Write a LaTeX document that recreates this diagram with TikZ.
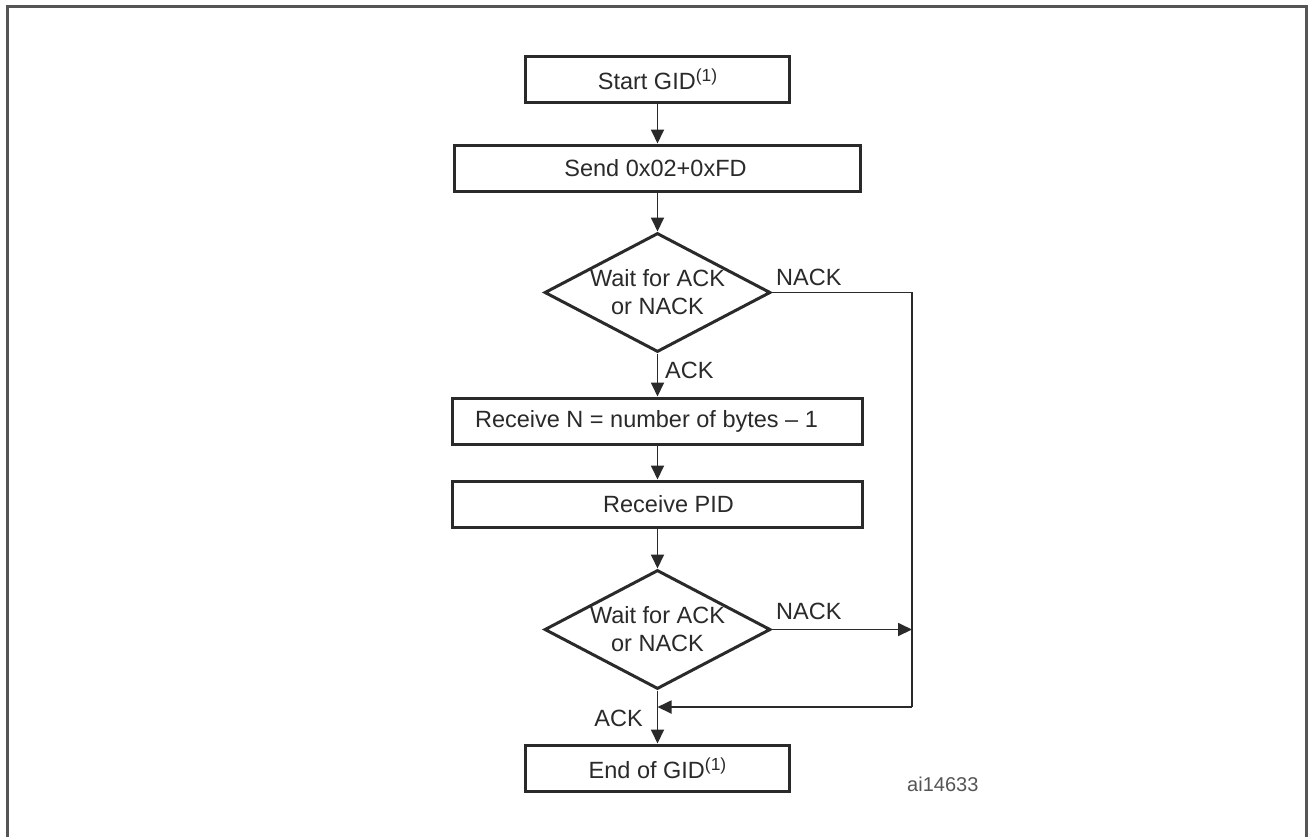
\documentclass[tikz,border=0pt]{standalone}
\usepackage{fontspec}
\setmainfont{Liberation Sans}
\usetikzlibrary{shapes.geometric,arrows.meta}
\definecolor{ink}{HTML}{2A2A2A}
\definecolor{frm}{HTML}{555555}
\newcommand{\noteref}{\raisebox{8pt}{\fontsize{17.5}{19}\selectfont(1)}}
\begin{document}
\begin{tikzpicture}[x=1pt,y=-1pt,
  font=\fontsize{23.5}{28}\selectfont, text=ink,
  procbox/.style={draw=ink, line width=3pt, rectangle, inner sep=0pt, minimum height=46pt},
  decision/.style={draw=ink, line width=3pt, diamond, aspect=1.9, inner sep=0pt, minimum width=226pt, minimum height=119pt, align=center},
  flow/.style={draw=ink, line width=1.8pt, -{Triangle[length=14pt,width=13pt]}},
  plain/.style={draw=ink, line width=1.8pt},
  lbl/.style={inner sep=0pt}]
\useasboundingbox (0,0) rectangle (1311,836);
\fill[white] (0,0) rectangle (1311,836);
\draw[frm, line width=3pt] (7,840) -- (7,6) -- (1306,6) -- (1306,840);

\node[procbox, minimum width=264pt] (start) at (657.5,79.5) {Start GID\noteref};
\node[procbox, minimum width=406pt] (send) at (657.5,168) {\hspace*{-4pt}Send 0x02+0xFD};
\node[decision] (d1) at (657.5,292.5) {Wait for ACK\\or NACK};
\node[procbox, minimum width=410pt] (recn) at (657.5,421) {\hspace*{-22pt}Receive N = number of bytes -- 1};
\node[procbox, minimum width=410pt] (pid) at (657.5,504) {\hspace*{22pt}Receive PID};
\node[decision] (d2) at (657.5,629.5) {Wait for ACK\\or NACK};
\node[procbox, minimum width=264pt] (stop) at (657.5,768) {End of GID\noteref};

\coordinate (rt) at (912,292.5);
\coordinate (rb) at (912,707);
\coordinate (rm) at (912,629.5);
\coordinate (mj) at (657.5,707);

\draw[flow] (start) -- (send);
\draw[flow] (send) -- (d1);
\draw[flow] (d1) -- (recn);
\draw[flow] (recn) -- (pid);
\draw[flow] (pid) -- (d2);
\draw[flow] (d2) -- (stop);
\draw[plain] (d1.east) -- (rt) -- (rb);
\draw[flow] (rb) -- (mj);
\draw[flow] (d2.east) -- (rm);

\node[lbl, anchor=west] (n1) at (776,277) {NACK};
\node[lbl, anchor=west] (n2) at (776,611) {NACK};
\node[lbl, anchor=west] (a1) at (665,370) {ACK};
\node[lbl, anchor=east] (a2) at (643,718) {ACK};
\node[lbl, font=\fontsize{20}{24}\selectfont, text=frm, anchor=west] (code) at (907,784) {ai14633};
\end{tikzpicture}
\end{document}
